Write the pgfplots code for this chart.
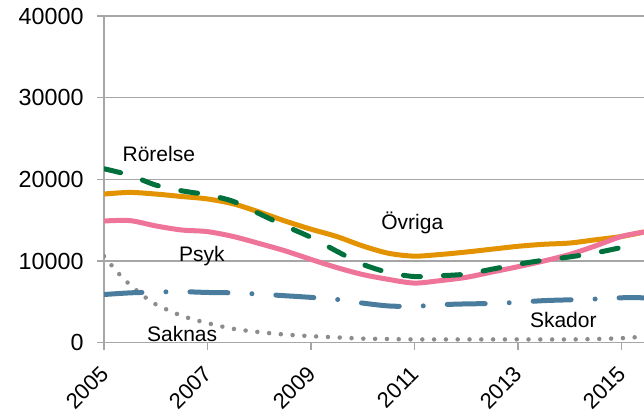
\documentclass[border=0pt]{standalone}
\usepackage{fontspec}
\setmainfont{Liberation Sans}
\usepackage{pgfplots}
\pgfplotsset{compat=1.18}
\definecolor{cgreen}{HTML}{00703C}
\definecolor{corange}{HTML}{E39200}
\definecolor{cpink}{HTML}{EE7499}
\definecolor{cblue}{HTML}{4A7C9E}
\definecolor{cgray}{HTML}{8C8C8C}
\definecolor{gridgray}{HTML}{A6A6A6}
\begin{document}
\begin{tikzpicture}
\begin{axis}[name=ax, scale only axis, width=540pt, height=326.7pt,
  xmin=2005, xmax=2015.44, ymin=0, ymax=40000,
  axis x line*=bottom, axis y line*=left,
  axis line style={draw=gridgray, line width=1.5pt},
  ymajorgrids, grid style={draw=gridgray, line width=1.5pt},
  ytick={0,10000,20000,30000,40000}, xtick={2005,2007,2009,2011,2013,2015},
  scaled y ticks=false,
  tick align=outside, major tick length=7pt,
  tick style={draw=gridgray, line width=1.5pt},
  /pgf/number format/assume math mode=true, /pgf/number format/1000 sep={},
  yticklabel style={font=\fontsize{23.3}{27}\selectfont, xshift=-10pt},
  xticklabel style={font=\fontsize{22}{26}\selectfont, yshift=-18pt, xshift=3pt, rotate=45, anchor=east},
  clip=true,
]
% Saknas
\addplot[cgray, line width=4.5pt, line cap=round, dash pattern=on 0pt off 11.8pt, smooth] coordinates {
(2005.0,10600) (2005.25,8700) (2005.5,7100) (2005.75,5800) (2006.0,4700) (2006.5,3300) (2007.0,2400) (2007.5,1700) (2008.0,1300) (2008.5,1000) (2009.0,800) (2009.5,650) (2010.0,500) (2010.5,450) (2011.0,400) (2012.0,400) (2013.0,400) (2014.0,400) (2014.5,450) (2015.0,550) (2015.44,750)};
% Skador
\addplot[cblue, line width=5pt, line cap=round, dash pattern=on 38pt off 24pt on 0pt off 24pt, smooth] coordinates {
(2005.0,5900) (2005.5,6100) (2006.0,6200) (2006.5,6250) (2007.0,6150) (2007.5,6100) (2008.0,5950) (2008.5,5750) (2009.0,5550) (2009.5,5300) (2010.0,4850) (2010.5,4500) (2011.0,4450) (2011.5,4650) (2012.0,4750) (2012.5,4800) (2013.0,4950) (2013.5,5150) (2014.0,5250) (2014.5,5350) (2015.0,5500) (2015.44,5500)};
% Ovriga
\addplot[corange, line width=5pt, smooth] coordinates {
(2005.0,18200) (2005.5,18400) (2006.0,18200) (2006.5,17900) (2007.0,17600) (2007.5,17000) (2008.0,16000) (2008.5,14900) (2009.0,13900) (2009.5,13000) (2010.0,11850) (2010.5,10950) (2011.0,10600) (2011.5,10800) (2012.0,11100) (2012.5,11450) (2013.0,11800) (2013.5,12050) (2014.0,12200) (2014.5,12600) (2015.0,13000) (2015.44,13550)};
% Psyk
\addplot[cpink, line width=5pt, smooth] coordinates {
(2005.0,14900) (2005.5,14950) (2006.0,14300) (2006.5,13800) (2007.0,13600) (2007.5,13000) (2008.0,12150) (2008.5,11250) (2009.0,10200) (2009.5,9200) (2010.0,8350) (2010.5,7750) (2011.0,7300) (2011.5,7600) (2012.0,8000) (2012.5,8650) (2013.0,9300) (2013.5,10000) (2014.0,10800) (2014.5,11850) (2015.0,13000) (2015.44,13550)};
% Rorelse
\addplot[cgreen, line width=5pt, line cap=round, dash pattern=on 17pt off 23pt, smooth] coordinates {
(2005.0,21300) (2005.5,20500) (2006.0,19300) (2006.5,18600) (2007.0,18100) (2007.5,17300) (2008.0,15800) (2008.5,14300) (2009.0,12900) (2009.5,11200) (2010.0,9600) (2010.5,8600) (2011.0,8100) (2011.5,8200) (2012.0,8400) (2012.5,9000) (2013.0,9600) (2013.5,10100) (2014.0,10500) (2014.5,11000) (2015.0,11650) (2015.1,11800)};
\node[anchor=base, font=\fontsize{21}{25}\selectfont] at (axis cs:2006.06,22190) {Rörelse};
\node[anchor=base, font=\fontsize{21}{25}\selectfont] at (axis cs:2006.89,9960) {Psyk};
\node[anchor=base, font=\fontsize{21}{25}\selectfont] at (axis cs:2006.51,150) {Saknas};
\node[anchor=base, font=\fontsize{21}{25}\selectfont] at (axis cs:2010.96,13910) {Övriga};
\node[anchor=base, font=\fontsize{21}{25}\selectfont] at (axis cs:2013.88,1810) {Skador};
\end{axis}
\pgfresetboundingbox
\path[use as bounding box] ([xshift=-104pt,yshift=-71.3pt]ax.south west) rectangle ([xshift=540pt,yshift=342.7pt]ax.south west);
\end{tikzpicture}
\end{document}
